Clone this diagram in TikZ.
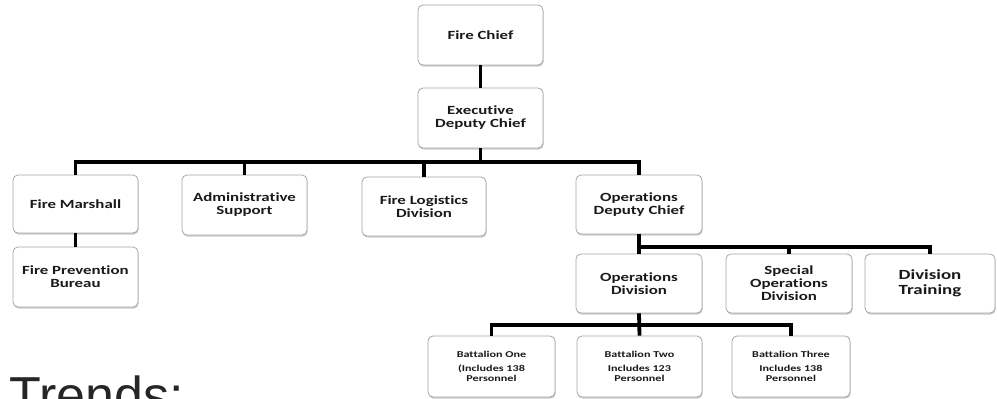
\documentclass[tikz,border=0pt]{standalone}
\usepackage{fontspec}
\usepackage{tikz}
\usetikzlibrary{shadows}
\newfontfamily\boxfont[FakeStretch=1.35, Ligatures=NoCommon]{Carlito}
\newfontfamily\trendfont{Liberation Sans}
\definecolor{BoxEdge}{HTML}{A6A6A6}
\definecolor{BoxText}{HTML}{1A1A1A}

\tikzset{
  orgbox/.style={draw=BoxEdge, line width=0.8pt, fill=white, rounded corners=5pt,
    minimum width=125pt, minimum height=60pt, inner sep=2pt, align=center,
    text=BoxText, font=\boxfont\bfseries\fontsize{12.5}{13}\selectfont,
    drop shadow={shadow xshift=0.6pt, shadow yshift=-1.6pt, opacity=0.35, fill=black!60}},
  smallbox/.style={orgbox, font=\boxfont\bfseries\fontsize{9}{10}\selectfont},
  link/.style={line width=3.8pt, black}
}

\begin{document}
\begin{tikzpicture}[x=1pt, y=-1pt]
  \useasboundingbox (0,0) rectangle (997,399);
  %% Top of the chart
  \node[orgbox] (chief) at (480.5,35) {Fire Chief};
  \node[orgbox] (exec) at (480.5,118) {Executive\\Deputy Chief};
  %% Second level
  \node[orgbox, minimum height=58pt] (marshall) at (75.5,204) {Fire Marshall};
  \node[orgbox] (prevention) at (75.5,277) {Fire Prevention\\Bureau};
  \node[orgbox] (admin) at (244.5,205) {Administrative\\Support};
  \node[orgbox, minimum width=124pt, minimum height=59pt] (logistics) at (424,206.5) {Fire Logistics\\Division};
  \node[orgbox, minimum width=126pt, minimum height=59pt] (opsdeputy) at (639,204.5) {Operations\\Deputy Chief};
  %% Operations branch
  \node[orgbox, minimum width=126pt, minimum height=59pt] (opsdiv) at (639,283.5) {Operations\\Division};
  \node[orgbox, minimum width=126pt, minimum height=59pt] (special) at (789,283.5) {Special\\Operations\\Division};
  \node[orgbox, minimum width=130pt, minimum height=59pt, font=\boxfont\bfseries\fontsize{14}{14.5}\selectfont] (training) at (930,283.5) {Division\\Training};
  %% Battalions
  \node[smallbox, minimum width=127pt, minimum height=61pt] (bat1) at (491.5,366.5) {Battalion One\\[4pt](Includes 138\\Personnel};
  \node[smallbox, minimum height=61pt] (bat2) at (639.5,366.5) {Battalion Two\\[4pt]Includes 123\\Personnel};
  \node[smallbox, minimum width=118pt, minimum height=61pt] (bat3) at (791,366.5) {Battalion Three\\[4pt]Includes 138\\Personnel};
  %% Bus coordinates
  \coordinate (mainbus) at (480.5,162);
  \coordinate (opsbus) at (639,247);
  \coordinate (batbus) at (639,325);
  %% Connectors
  \draw[link] (chief) -- (exec);
  \draw[link] (exec.south) -- (mainbus);
  \draw[link] (marshall.north) |- (mainbus) -| (opsdeputy.north);
  \foreach \n in {admin, logistics}
    \draw[link] (\n.north) -- (\n.north |- mainbus);
  \draw[link] (marshall) -- (prevention);
  \draw[link] (opsdeputy.south) -- (opsdiv.north);
  \draw[link] (opsbus) -| (training.north);
  \draw[link] (special.north) -- (special.north |- opsbus);
  \draw[link] (opsdiv.south) -- (bat2.north);
  \draw[link] (bat1.north) |- (batbus) -| (bat3.north);
  %% Heading cut off at the bottom
  \node[anchor=base west, inner sep=0pt, text=black!85, font=\trendfont\fontsize{52}{52}\selectfont] (trends) at (9,413) {Trends:};
\end{tikzpicture}
\end{document}
